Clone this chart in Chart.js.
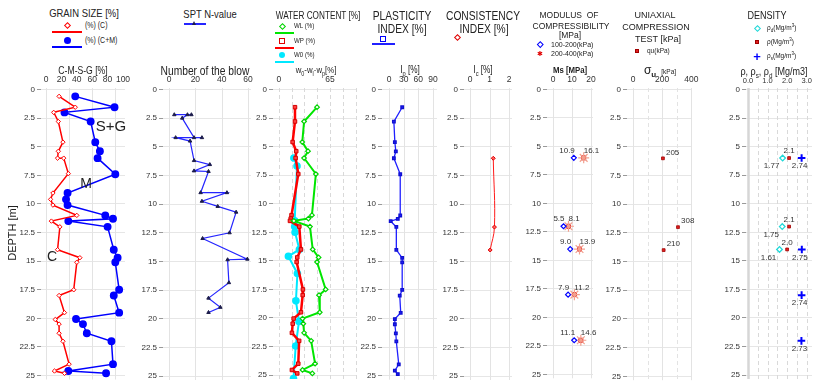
<!DOCTYPE html>
<html>
<head>
<meta charset="utf-8">
<script src="https://cdn.jsdelivr.net/npm/chart.js@4.4.0/dist/chart.umd.min.js"></script>
<style>
  body { margin: 0; width: 813px; height: 387px; background: #fff; position: relative; overflow: hidden;
         font-family: "Liberation Sans", Arial, sans-serif; color: #222; }
  .t { position: absolute; white-space: nowrap; transform: translate(-50%, -50%); line-height: 1; }
  .l { position: absolute; white-space: nowrap; transform: translate(0, -50%); line-height: 1; }
  /* condensed text, the narrow font is not installed */
  .t.n { transform: translate(-50%, -50%) scaleX(0.82); }
  .l.n { transform: translate(0, -50%) scaleX(0.82); transform-origin: 0 50%; }
  .s { position: absolute; box-sizing: border-box; }
  sub, sup { font-size: 70%; line-height: 0; }
</style>
</head>
<body>
<script>
// depth axis
const depthTicks = [0, 2.5, 5, 7.5, 10, 12.5, 15, 17.5, 20, 22.5, 25];

// grain size
const clayDepth = [0.6, 1.55, 2.0, 2.8, 4.6, 5.4, 6.0, 6.0, 7.35, 9.05, 9.6, 10.1, 11.0, 11.5, 12.0, 14.0, 14.7, 15.1, 17.5, 18.0, 19.5, 20.1, 20.5, 21.3, 22.0, 24.0, 24.6, 24.8];
const clayPct = [17, 38, 10, 16, 22, 16, 15, 23, 29, 9, 6, 9, 40, 7, 18, 15, 44, 40, 36, 17, 24, 12, 17, 17, 22, 30, 11, 24];
const finesDepth = [0.6, 1.55, 2.0, 2.8, 4.6, 5.4, 6.0, 7.4, 9.05, 9.6, 10.1, 11.0, 11.3, 11.5, 12.0, 14.0, 14.7, 15.1, 17.5, 18.0, 19.5, 20.05, 20.5, 21.3, 22.0, 24.0, 24.6, 24.8];
const finesPct = [38, 89, 24, 58, 64, 70, 67, 90, 28, 26, 28, 77, 87, 29, 80, 88, 93, 90, 95, 88, 95, 39, 48, 53, 85, 87, 29, 78];

// SPT
const sptDepth = [2.2, 2.2, 2.2, 2.5, 4.2, 4.2, 4.2, 4.5, 6.2, 6.55, 7.1, 7.15, 9.0, 9.0, 9.75, 10.2, 10.7, 12.5, 13.0, 14.8, 14.85, 16.85, 18.2, 19.0, 19.45];
const sptBlows = [4, 17, 14, 10, 19, 25, 5, 16, 19, 31, 19, 30, 24, 44, 25, 37, 51, 46, 25.5, 59.5, 44.5, 45.5, 30, 39, 30];

// water content and plasticity
const limitsDepth = [1.55, 2.8, 4.6, 5.4, 6.0, 7.4, 11.0, 11.3, 11.5, 12.0, 14.0, 14.7, 15.1, 17.5, 18.0, 19.5, 20.05, 20.5, 21.3, 22.0, 24.0, 24.55, 24.85];
const liquidLimit = [48.5, 32, 29.7, 37, 32, 47, 42, 37.5, 19, 39.5, 43, 50.5, 48.5, 59.5, 51, 52, 30, 31, 32, 41, 46, 30, 42.5];
const plasticLimit = [20.4, 20.4, 17.4, 22, 21.2, 24.6, 16, 15, 14, 25.9, 28, 23.3, 22.5, 30.5, 30.2, 28, 18.7, 17.5, 16.5, 25.7, 24.6, 16.5, 23.3];
const plasticityIdx = [27, 10, 12, 14, 10, 23, 23, 18, 3.5, 15, 15, 27, 27, 27, 22, 24, 12, 12, 14, 15, 20, 12, 18];
const w0Depth = [6.0, 6.7, 11.5, 12.0, 12.5, 14.0, 14.6, 16.1, 18.5, 20.3, 22.45, 25.3];
const waterContent = [19, 23, 20, 20, 20.5, 26, 12, 23.5, 21.6, 25.5, 21.3, 18.5];

// consistency index
const icDepth = [6.0, 12.0, 14.0];
const consistencyIdx = [1.19, 1.25, 1.03];

// modulus of compressibility
const msDepth = [6, 12, 14, 18, 22];
const ms100_200 = [10.9, 5.5, 9.0, 7.9, 11.1];
const ms200_400 = [16.1, 8.1, 13.9, 11.2, 14.6];

// uniaxial compression
const quDepth = [6, 12, 14];
const quValues = [205, 308, 210];

// density
const rhoDepth = [6, 12, 14];
const rhoBulk = [2.1, 2.1, 2.0];
const rhoDry = [1.77, 1.75, 1.61];
const rhoSDepth = [6, 14, 18, 22];
const rhoSolid = [2.74, 2.75, 2.74, 2.73];

const pts = (vals, depth) => vals.map((v, i) => ({ x: v, y: depth[i] }));

// vertical grid lines drawn per panel
const vgrid = {
  id: 'vgrid',
  beforeDatasetsDraw(chart, args, opts) {
    const { ctx, chartArea: a, scales: { x } } = chart;
    (opts.lines || []).forEach(g => {
      ctx.save();
      ctx.strokeStyle = g.c || '#e3e3e3';
      ctx.lineWidth = g.w || 1;
      ctx.setLineDash(g.d || []);
      const px = Math.round(x.getPixelForValue(g.v)) + 0.5;
      ctx.beginPath();
      ctx.moveTo(px, a.top);
      ctx.lineTo(px, a.bottom);
      ctx.stroke();
      ctx.restore();
    });
  }
};

// value labels next to points
const ptLabels = {
  id: 'ptLabels',
  afterDatasetsDraw(chart) {
    const ctx = chart.ctx;
    chart.data.datasets.forEach((ds, i) => {
      if (!ds.labelFmt) return;
      chart.getDatasetMeta(i).data.forEach((pt, j) => {
        ctx.save();
        ctx.font = '8px "Liberation Sans", Arial, sans-serif';
        ctx.fillStyle = '#333';
        ctx.textAlign = ds.labelAlign;
        ctx.textBaseline = 'middle';
        ctx.fillText(ds.labelFmt(ds.data[j].x), pt.x + ds.labelDx, pt.y + ds.labelDy);
        ctx.restore();
      });
    });
  }
};

const Y_W = 24, PAD_R = 14, TOP = 72, H = 313;

function makePanel(p) {
  const w = Y_W + (p.right - p.left) + PAD_R;
  const wrap = document.createElement('div');
  wrap.style.cssText = `position:absolute;left:${p.left - Y_W}px;top:${TOP}px;width:${w}px;height:${H}px;`;
  const cv = document.createElement('canvas');
  cv.width = w;
  cv.height = H;
  wrap.appendChild(cv);
  document.body.appendChild(wrap);

  return new Chart(cv, {
    type: 'line',
    data: { datasets: p.datasets },
    plugins: [vgrid, ptLabels],
    options: {
      responsive: false,
      animation: false,
      devicePixelRatio: 1,
      layout: { padding: { left: 0, right: PAD_R, top: 0, bottom: 0 } },
      plugins: { legend: { display: false }, tooltip: { enabled: false }, vgrid: { lines: p.vlines } },
      scales: {
        x: {
          type: 'linear', position: 'top', min: p.xmin, max: p.xmax,
          afterBuildTicks: s => { s.ticks = p.xticks.map(v => ({ value: v })); },
          afterFit: s => { s.height = 16; s.paddingLeft = 0; s.paddingRight = 0; },
          grid: { display: false, drawTicks: false },
          border: { display: false },
          ticks: { padding: 3, color: '#333', font: { size: p.xfont || 8.5 }, maxRotation: 0, autoSkip: false,
                   callback: p.xfmt || (v => String(v)) }
        },
        y: {
          type: 'linear', reverse: true, min: -0.13, max: 25.34,
          afterBuildTicks: s => { s.ticks = depthTicks.map(v => ({ value: v })); },
          afterFit: s => { s.width = Y_W; s.paddingTop = 0; s.paddingBottom = 0; },
          grid: { color: '#e6e6e6', tickColor: '#999', tickLength: 4 },
          border: { display: false },
          ticks: { padding: 2, color: '#333', font: { size: 8 }, autoSkip: false, callback: v => String(v) }
        }
      }
    }
  });
}

const solid = vs => vs.map(v => ({ v }));

// 1 grain size
makePanel({
  left: 41, right: 125, xmin: -6.5, xmax: 102.6, xticks: [0, 20, 40, 60, 80, 100],
  vlines: solid([0, 30, 60, 90]),
  datasets: [
    { data: pts(clayPct, clayDepth), borderColor: '#ff0000', borderWidth: 1.5, pointStyle: 'rectRot',
      pointRadius: 2.2, pointBorderColor: '#ff0000', pointBackgroundColor: '#fff', pointBorderWidth: 1 },
    { data: pts(finesPct, finesDepth), borderColor: '#0000ff', borderWidth: 1.5, pointStyle: 'circle',
      pointRadius: 3.2, pointBorderColor: '#0000ff', pointBackgroundColor: '#0000ff' }
  ]
});

// 2 SPT
makePanel({
  left: 163, right: 251, xmin: -4.6, xmax: 62.3, xticks: [0, 20, 40, 60],
  vlines: solid([0, 20, 40, 60]),
  datasets: [
    { data: pts(sptBlows, sptDepth), borderColor: '#2525ff', borderWidth: 1.2, pointStyle: 'triangle',
      pointRadius: 2, pointBorderColor: '#1c1c4a', pointBackgroundColor: '#1c1c4a', pointBorderWidth: 1 }
  ]
});

// 3 water content
makePanel({
  left: 273, right: 357, xmin: -7.6, xmax: 99.4, xticks: [0, 65],
  vlines: [0, 16.25, 32.5, 48.75, 65, 81.25, 97.5].map(v => ({ v, d: [4, 3], c: '#d9d9d9' })),
  datasets: [
    { data: pts(liquidLimit, limitsDepth), borderColor: '#00e600', borderWidth: 2, pointStyle: 'rectRot',
      pointRadius: 2.3, pointBorderColor: '#00d400', pointBackgroundColor: '#fff', pointBorderWidth: 1.2 },
    { data: pts(plasticLimit, limitsDepth), borderColor: '#ff0000', borderWidth: 2.5, pointStyle: 'rect',
      pointRadius: 2.5, pointBorderColor: '#d40000', pointBackgroundColor: '#ff4040', pointBorderWidth: 1 },
    { data: pts(waterContent, w0Depth), borderColor: '#00e8ff', borderWidth: 2, pointStyle: 'circle',
      pointRadius: 2.8, pointBorderColor: '#00e8ff', pointBackgroundColor: '#00e8ff' }
  ]
});

// 4 plasticity index
makePanel({
  left: 382, right: 437, xmin: -14.3, xmax: 98.2, xticks: [0, 30, 60, 90],
  vlines: solid([0, 30, 60, 90]),
  datasets: [
    { data: pts(plasticityIdx, limitsDepth), borderColor: '#2020ff', borderWidth: 1.3, pointStyle: 'rect',
      pointRadius: 1.8, pointBorderColor: '#1010d0', pointBackgroundColor: '#2020ff' }
  ]
});

// 5 consistency index
makePanel({
  left: 464, right: 512, xmin: -0.31, xmax: 2.15, xticks: [0, 1, 2],
  vlines: solid([0, 1, 2]),
  datasets: [
    { data: pts(consistencyIdx, icDepth), borderColor: '#ff1a1a', borderWidth: 1, tension: 0.4,
      pointStyle: 'rectRot', pointRadius: 2, pointBorderColor: '#e00000', pointBackgroundColor: '#ff6060' }
  ]
});

// 6 modulus of compressibility
makePanel({
  left: 547, right: 593, xmin: -3.2, xmax: 21, xticks: [0, 10, 20],
  vlines: solid([0, 10, 20]),
  datasets: [
    { data: pts(ms100_200, msDepth), showLine: false, pointStyle: 'rectRot', pointRadius: 2.5,
      pointBorderColor: '#0000ff', pointBackgroundColor: '#fff', pointBorderWidth: 1.2,
      labelFmt: v => v.toFixed(1), labelAlign: 'right', labelDx: 1, labelDy: -7 },
    { data: pts(ms200_400, msDepth), showLine: false, pointStyle: 'star', pointRadius: 5.5,
      pointBorderColor: '#f2a08e', pointBorderWidth: 1.2 },
    { data: pts(ms200_400, msDepth), showLine: false, pointStyle: 'rect', pointRadius: 2.8,
      pointBorderColor: '#e00000', pointBackgroundColor: '#ff0000',
      labelFmt: v => v.toFixed(1), labelAlign: 'left', labelDx: 0, labelDy: -7 }
  ]
});

// 7 uniaxial compression
makePanel({
  left: 627, right: 692, xmin: -41, xmax: 404, xticks: [0, 200, 400],
  vlines: [{ v: 0 }, { v: 100, d: [4, 3] }, { v: 200 }, { v: 300, d: [4, 3] }, { v: 400 }],
  datasets: [
    { data: pts(quValues, quDepth), showLine: false, pointStyle: 'rect', pointRadius: 2,
      pointBorderColor: '#a00000', pointBackgroundColor: '#e02020', pointBorderWidth: 0.8,
      labelFmt: v => String(v), labelAlign: 'left', labelDx: 3, labelDy: -6 }
  ]
});

// 8 density
makePanel({
  left: 746, right: 812, xmin: -0.1, xmax: 3.27, xticks: [0, 1, 2, 3], xfont: 7.5,
  xfmt: v => v.toFixed(1),
  vlines: [{ v: 0, w: 2.5, c: '#d6d6d6' }].concat([0.5, 1, 1.5, 2, 2.5, 3].map(v => ({ v, d: [4, 3], c: '#d9d9d9' }))),
  datasets: [
    { data: pts(rhoDry, rhoDepth), showLine: false, pointStyle: 'rectRot', pointRadius: 2.8,
      pointBorderColor: '#20d8d8', pointBackgroundColor: '#fff', pointBorderWidth: 1.3,
      labelFmt: v => v.toFixed(2), labelAlign: 'center', labelDx: -11, labelDy: 8 },
    { data: pts(rhoBulk, rhoDepth), showLine: false, pointStyle: 'rect', pointRadius: 2,
      pointBorderColor: '#a00000', pointBackgroundColor: '#e02020', pointBorderWidth: 0.8,
      labelFmt: v => v.toFixed(1), labelAlign: 'center', labelDx: 0, labelDy: -7 },
    { data: pts(rhoSolid, rhoSDepth), showLine: false, pointStyle: 'cross', pointRadius: 3.8,
      pointBorderColor: '#0000ff', pointBorderWidth: 2,
      labelFmt: v => v.toFixed(2), labelAlign: 'center', labelDx: -2, labelDy: 8 }
  ]
});

// headers, legends and axis titles
const html = [];
const ctr = (t, x, y, size, cls = '') => html.push(`<div class="t ${cls}" style="left:${x}px;top:${y}px;font-size:${size}px">${t}</div>`);
const lft = (t, x, y, size, cls = '') => html.push(`<div class="l ${cls}" style="left:${x}px;top:${y}px;font-size:${size}px">${t}</div>`);
const line = (x1, x2, y, c, w = 2) => html.push(`<div class="s" style="left:${x1}px;top:${y - w / 2}px;width:${x2 - x1}px;height:${w}px;background:${c}"></div>`);
const box = (x, y, s, css) => html.push(`<div class="s" style="left:${x - s / 2}px;top:${y - s / 2}px;width:${s}px;height:${s}px;${css}"></div>`);

// grain size
ctr('GRAIN SIZE [%]', 84, 14, 11.5, 'n');
box(67, 25, 5, 'border:1.5px solid #f00;background:#fff;transform:rotate(45deg)');
lft('(%) (C)', 85, 25, 8.5, 'n');
line(52, 82, 32, '#f00');
box(67, 40, 7, 'background:#00f;border-radius:50%');
lft('(%) (C+M)', 85, 40, 8.5, 'n');
line(52, 82, 47, '#00f');
ctr('C-M-S-G [%]', 83, 70, 10.5, 'n');
ctr('S+G', 111, 125, 15);
ctr('M', 86, 183, 14);
ctr('C', 52, 256, 14);
html.push('<div class="t" style="left:12px;top:233px;font-size:11px;transform:translate(-50%,-50%) rotate(-90deg)">DEPTH [m]</div>');

// SPT
ctr('SPT N-value', 210, 15, 11.5, 'n');
line(184, 206, 24, '#2525ff', 1.2);
html.push('<div class="s" style="left:192px;top:20.5px;width:0;height:0;border-left:2.5px solid transparent;border-right:2.5px solid transparent;border-bottom:4px solid #1c1c4a"></div>');
ctr('Number of the blow', 205, 71, 12.5, 'n');

// water content
ctr('WATER CONTENT [%]', 318, 16, 10, 'n');
box(282, 26, 5, 'border:1.3px solid #00d400;background:#fff;transform:rotate(45deg)');
lft('WL (%)', 294, 26, 7.5, 'n');
line(275, 294, 33, '#00e600');
box(282, 41, 5.5, 'border:1.5px solid #e00000;background:#fff');
lft('WP (%)', 294, 41, 7.5, 'n');
line(275, 294, 48, '#f00');
box(282, 55, 6, 'background:#00e8ff;border-radius:50%');
lft('W0 (%)', 294, 55, 7.5, 'n');
line(275, 294, 62, '#00e8ff');
ctr('w<sub>0</sub>-w<sub>l</sub>-w<sub>p</sub>[%]', 316, 70, 9.5, 'n');

// plasticity index
ctr('PLASTICITY', 402, 16, 12.5, 'n');
ctr('INDEX [%]', 402, 29, 12.5, 'n');
box(383, 39, 6, 'border:1.5px solid #00f;background:#fff');
line(372, 395, 44, '#2020ff', 1.2);
ctr('I<sub>p</sub> [%]', 410, 70, 10, 'n');

// consistency index
ctr('CONSISTENCY', 483, 16, 12.5, 'n');
ctr('INDEX [%]', 484, 29, 12.5, 'n');
box(457, 37, 5, 'border:1.4px solid #e00000;background:#fff;transform:rotate(45deg)');
ctr('I<sub>c</sub> [%]', 483, 70, 10, 'n');

// modulus
ctr('MODULUS&nbsp; OF', 569, 15, 8.5);
ctr('COMPRESSIBILITY', 571, 25.5, 8.5);
ctr('[MPa]', 570, 35, 8.5);
box(540, 44, 4.5, 'border:1.2px solid #00f;background:#fff;transform:rotate(45deg)');
lft('100-200(kPa)', 551, 44, 7);
ctr('<span style="color:#e00000">&#10033;</span>', 540, 53, 7);
lft('200-400(kPa)', 551, 53, 7);
ctr('<b>Ms [MPa]</b>', 570, 70, 9.5, 'n');

// uniaxial
ctr('UNIAXIAL', 655, 15, 9);
ctr('COMPRESSION', 656, 27, 9);
ctr('TEST [kPa]', 658, 39, 9);
box(637, 51, 4, 'background:#e02020;border:0.8px solid #a00000');
lft('qu(kPa)', 647, 51, 6.5);
ctr('<span style="font-size:12px">&sigma;</span><sub style="font-size:8px;font-weight:bold">u</sub>&nbsp;&nbsp;<span style="font-size:6.5px">[kPa]</span>', 660, 70, 9);

// density
ctr('DENSITY', 767, 15, 11, 'n');
box(757, 28, 5, 'border:1.3px solid #20d8d8;background:#fff;transform:rotate(45deg)');
lft('&rho;<sub>d</sub>(Mg/m<sup>3</sup>)', 767, 28, 6.5);
box(757, 42, 4, 'background:#e02020;border:0.8px solid #a00000');
lft('&rho;(Mg/m<sup>3</sup>)', 767, 42, 6.5);
ctr('<b style="color:#00f">+</b>', 757, 56, 13);
lft('&rho;<sub>s</sub>(Mg/m<sup>3</sup>)', 767, 56, 6.5);
ctr('&rho;, &rho;<sub>s</sub>, &rho;<sub>d</sub> [Mg/m3]', 774, 71, 11, 'n');

const layer = document.createElement('div');
layer.innerHTML = html.join('');
document.body.appendChild(layer);
</script>
</body>
</html>
